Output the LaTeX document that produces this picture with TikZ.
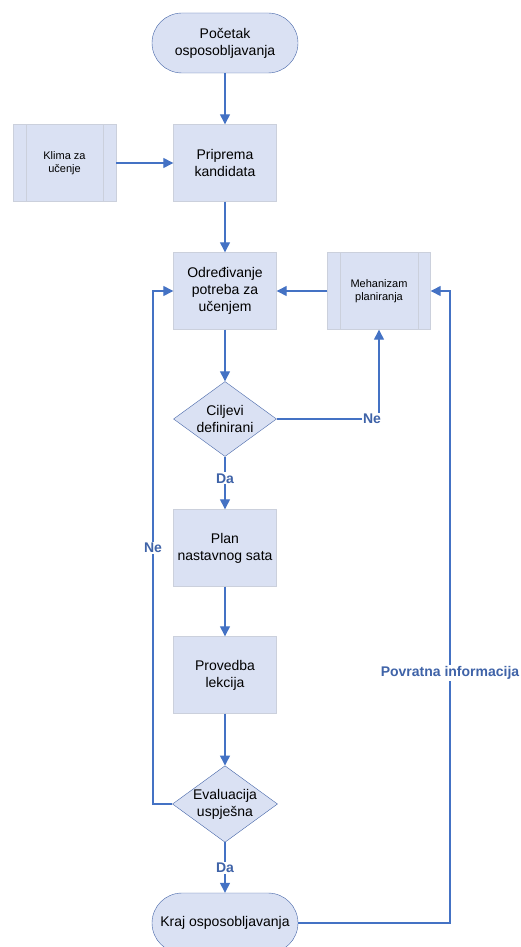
\documentclass[tikz,border=0pt]{standalone}
\usepackage{fontspec}
\setmainfont{Liberation Sans}
\usepackage{xcolor}
\usetikzlibrary{shapes.geometric,arrows.meta}
\definecolor{boxfill}{HTML}{DAE1F3}
\definecolor{boxedge}{HTML}{CBD0DC}
\definecolor{shapeedge}{HTML}{4565A8}
\definecolor{flowline}{HTML}{4472C4}
\definecolor{flowlabel}{HTML}{3F63A8}
\newcommand{\subbars}[1]{
\draw[boxedge] ([xshift=13pt]#1.north west) -- ([xshift=13pt]#1.south west);
\draw[boxedge] ([xshift=-13pt]#1.north east) -- ([xshift=-13pt]#1.south east);
}
\tikzset{
  process/.style={rectangle, draw=boxedge, fill=boxfill, minimum width=103pt,
    minimum height=77pt, inner sep=1pt, align=center, font=\fontsize{14}{17}\selectfont},
  subproc/.style={process, font=\fontsize{11}{13.5}\selectfont},
  terminal/.style={rectangle, rounded corners=30pt, draw=shapeedge, fill=boxfill,
    minimum width=146pt, minimum height=60pt, align=center, font=\fontsize{14}{17}\selectfont},
  decision/.style={diamond, draw=shapeedge, fill=boxfill, aspect=1.373, inner sep=0pt,
    minimum width=103pt, minimum height=75pt, align=center, font=\fontsize{14}{17}\selectfont},
  flow/.style={draw=flowline, line width=1.3pt, -{Triangle[length=10pt,width=10pt]}},
  tag/.style={fill=white, inner sep=1pt, text=flowlabel, font=\fontsize{14}{16}\selectfont\bfseries}
}
\begin{document}
\begin{tikzpicture}[x=1pt,y=-1pt]
\useasboundingbox (0,0) rectangle (520,947);
\begin{scope}
\clip (0,0) rectangle (520,947);
\node[terminal] at (225, 43) (start) {Početak\\osposobljavanja};
\node[process] at (225, 163) (prep) {Priprema\\kandidata};
\node[subproc] at (64.5, 163) (klima) {Klima za\\učenje};
\node[process] at (225, 291) (needs) {Određivanje\\potreba za\\učenjem};
\node[subproc] at (379, 291) (mech) {Mehanizam\\planiranja};
\node[decision] at (225, 419) (goals) {Ciljevi\\definirani};
\node[process] at (225, 548) (plan) {Plan\\nastavnog sata};
\node[process] at (225, 675) (lesson) {Provedba\\lekcija};
\node[decision] at (225, 804) (eval) {Evaluacija\\uspješna};
\node[terminal] at (225, 923) (stop) {Kraj osposobljavanja};
\subbars{klima}
\subbars{mech}
\coordinate (ne1) at (379, 419);
\coordinate (fb1) at (450, 923);
\coordinate (fb2) at (450, 291);
\coordinate (back1) at (153, 804);
\coordinate (back2) at (153, 291);
\draw[flow] (start) -- (prep);
\draw[flow] (klima) -- (prep);
\draw[flow] (prep) -- (needs);
\draw[flow] (mech) -- (needs);
\draw[flow] (needs) -- (goals);
\draw[flow] (goals) -- (plan) node[tag, pos=0.41] (da1) {Da};
\draw[flow] (goals.east) -- (ne1) -- (mech.south);
\node[tag] at (372, 419) (ne) {Ne};
\draw[flow] (plan) -- (lesson);
\draw[flow] (lesson) -- (eval);
\draw[flow] (eval) -- (stop) node[tag, pos=0.5] (da2) {Da};
\draw[flow] (eval.west) -- (back1) -- (back2) -- (needs.west);
\node[tag] at (153, 548) (ne2) {Ne};
\draw[flow] (stop.east) -- (fb1) -- (fb2) -- (mech.east);
\node[tag] at (450, 673) (fbtag) {Povratna informacija};
\end{scope}
\end{tikzpicture}
\end{document}
